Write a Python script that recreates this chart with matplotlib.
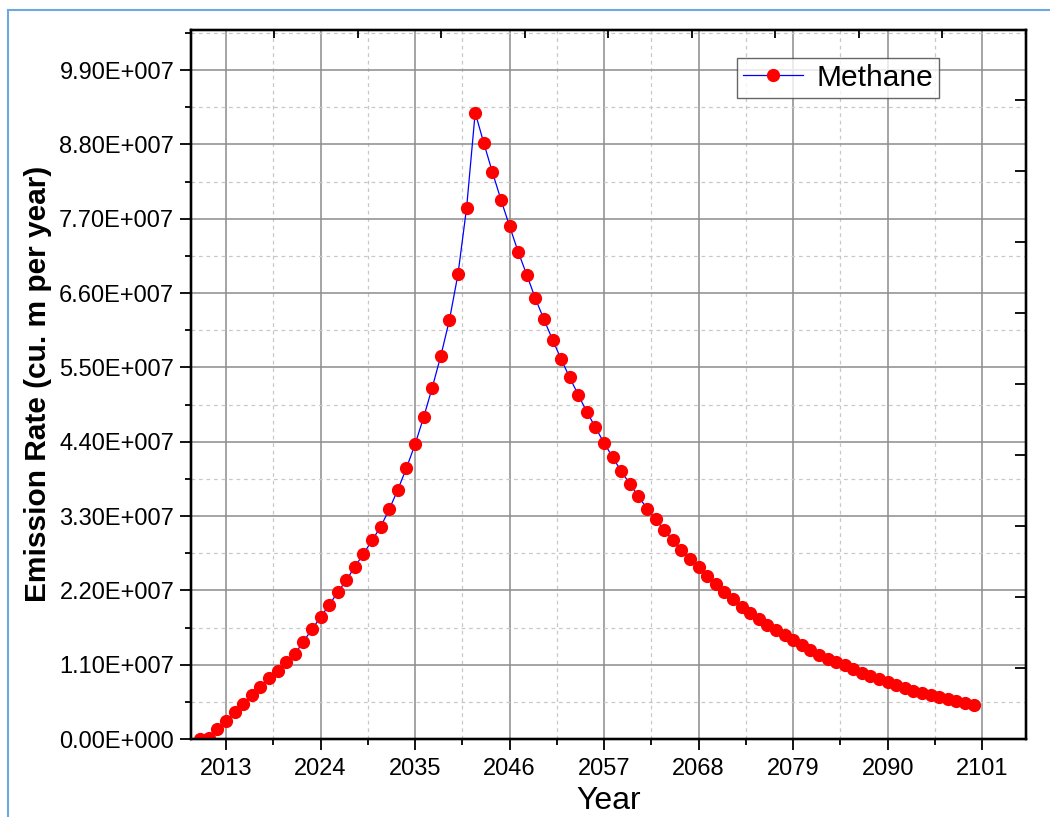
import matplotlib
matplotlib.use("Agg")
import matplotlib.pyplot as plt
from matplotlib.ticker import MultipleLocator, FuncFormatter
from matplotlib.lines import Line2D
import numpy as np

# years and methane emission rate (cu. m per year)
years = list(range(2010, 2101))
methane = [
    0.0e6, 0.1e6, 1.44e6, 2.71e6, 3.95e6, 5.23e6, 6.56e6, 7.74e6, 8.98e6, 10.1e6,
    11.35e6, 12.54e6, 14.4e6, 16.24e6, 18.0e6, 19.84e6, 21.7e6, 23.5e6, 25.5e6, 27.4e6,
    29.4e6, 31.4e6, 34.0e6, 36.9e6, 40.1e6, 43.6e6, 47.6e6, 52.0e6, 56.7e6, 62.0e6,
    68.8e6, 78.6e6, 92.7e6, 88.2e6, 83.9e6, 79.8e6, 75.9e6, 72.1e6, 68.7e6, 65.2e6,
    62.1e6, 59.1e6, 56.2e6, 53.5e6, 50.9e6, 48.4e6, 46.1e6, 43.8e6, 41.7e6, 39.6e6,
    37.75e6, 35.9e6, 34.1e6, 32.5e6, 30.9e6, 29.4e6, 28.0e6, 26.6e6, 25.4e6, 24.05e6,
    22.9e6, 21.8e6, 20.7e6, 19.6e6, 18.7e6, 17.8e6, 16.9e6, 16.1e6, 15.35e6, 14.6e6,
    13.9e6, 13.2e6, 12.5e6, 11.9e6, 11.35e6, 10.9e6, 10.36e6, 9.8e6, 9.33e6, 8.84e6,
    8.39e6, 7.95e6, 7.5e6, 7.15e6, 6.77e6, 6.47e6, 6.17e6, 5.88e6, 5.63e6, 5.37e6,
    5.08e6,
]

plt.rcParams['font.family'] = ['Liberation Sans', 'DejaVu Sans']

fig = plt.figure(figsize=(10.5, 8.17), dpi=100)
W, H = 1050, 817
ax = fig.add_axes([191 / W, 1 - 739 / H, (1025.6 - 191) / W, (739 - 29.5) / H])

ax.plot(years, methane, color='blue', lw=0.9, marker='o', markersize=8.5,
        markerfacecolor='red', markeredgecolor='red', label='Methane', zorder=3)

ax.set_xlim(2008.93, 2106.05)
ax.set_ylim(0, 1.05e8)

ax.xaxis.set_major_locator(MultipleLocator(11))
ax.xaxis.set_minor_locator(MultipleLocator(5.5))
ax.yaxis.set_major_locator(MultipleLocator(1.1e7))
ax.yaxis.set_minor_locator(MultipleLocator(5.5e6))


def sci_fmt(v, pos):
    if abs(v) < 1:
        return "0.00E+000"
    e = int(np.floor(np.log10(abs(v))))
    return f"{v / 10 ** e:.2f}E+{e:03d}"


ax.yaxis.set_major_formatter(FuncFormatter(sci_fmt))

ax.grid(which='major', color='#8c8c8c', lw=1.1, ls='-')
ax.grid(which='minor', color='#c8c8c8', lw=0.9, ls=(0, (3, 3)))
ax.set_axisbelow(True)

ax.tick_params(which='major', direction='out', length=8, width=1.3, labelsize=17, pad=4,
               top=False, right=False)
ax.tick_params(which='minor', direction='out', length=4.5, width=1.3, top=False, right=False)
ax.tick_params(axis='x', which='major', pad=6)
for s in ax.spines.values():
    s.set_linewidth(1.6)

ax.set_xlabel("Year", fontsize=23, labelpad=4)
ax.set_ylabel("Emission Rate (cu. m per year)", fontsize=21.5, fontweight='bold', labelpad=5)

# top and right axes with their own evenly spaced inward ticks
axt = ax.twiny()
axt.set_xlim(0, 10)
axt.set_xticks(range(1, 10))
axt.tick_params(axis='x', direction='in', length=6, width=1.3, labeltop=False)
axr = ax.twinx()
axr.set_ylim(0, 10)
axr.set_yticks(range(1, 10))
axr.tick_params(axis='y', direction='in', length=8, width=1.3, labelright=False)
for a in (axt, axr):
    a.set_position(ax.get_position())
    for s in a.spines.values():
        s.set_linewidth(1.6)

handles, labels = ax.get_legend_handles_labels()
leg = axr.legend(handles, labels, loc='upper right', bbox_to_anchor=(0.8962, 0.9603),
                 borderaxespad=0, fontsize=21.5, frameon=True, fancybox=False,
                 handlelength=2.0, borderpad=0.2, handletextpad=0.45)
leg.get_frame().set_edgecolor('#404040')
leg.get_frame().set_linewidth(1.0)

# light blue outer frame
fig.add_artist(Line2D([8 / W, 8 / W], [0, 1 - 10 / H], color='#6fa8dc', lw=1.5))
fig.add_artist(Line2D([8 / W, 1], [1 - 10 / H, 1 - 10 / H], color='#6fa8dc', lw=1.5))

fig.savefig("out.png", dpi=100)
